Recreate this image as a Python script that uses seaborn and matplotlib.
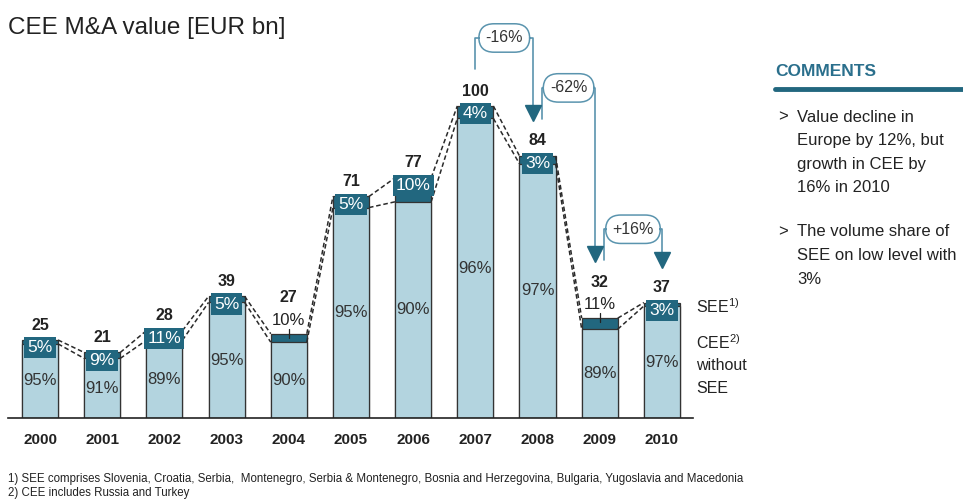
import matplotlib
matplotlib.use("Agg")
import matplotlib.pyplot as plt
import seaborn as sns
import pandas as pd
from matplotlib.lines import Line2D

years = ["2000", "2001", "2002", "2003", "2004", "2005", "2006", "2007", "2008", "2009", "2010"]
totals = [25, 21, 28, 39, 27, 71, 77, 100, 84, 32, 37]
see_share = [5, 9, 11, 5, 10, 5, 10, 4, 3, 11, 3]
cee_share = [95, 91, 89, 95, 90, 95, 90, 96, 97, 89, 97]
see_outside = ["2004", "2009"]  # SEE share written above the bar instead of in a box
changes = [("2007", "2008", "-16%"), ("2008", "2009", "-62%"), ("2009", "2010", "+16%")]
comments = [
    ["Value decline in", "Europe by 12%, but", "growth in CEE by", "16% in 2010"],
    ["The volume share of", "SEE on low level with", "3%"],
]
footnotes = [
    "1) SEE comprises Slovenia, Croatia, Serbia,  Montenegro, Serbia & Montenegro, Bosnia and Herzegovina, Bulgaria, Yugoslavia and Macedonia",
    "2) CEE includes Russia and Turkey",
]

LIGHT = "#b3d4df"
DARK = "#22677f"
LINE = "#5a94ae"
TXT = "#222222"

sns.set_style("white")
plt.rcParams["font.family"] = ["Liberation Sans", "DejaVu Sans"]
plt.rcParams["mathtext.fontset"] = "custom"
plt.rcParams["mathtext.rm"] = "Liberation Sans"

df = pd.DataFrame({"year": years, "total": totals, "see": see_share, "cee_pct": cee_share})
df["cee"] = df["total"] * df["cee_pct"] / 100

W = 0.58
fig = plt.figure(figsize=(9.63, 5.01), dpi=100)
ax = fig.add_axes([8 / 963, 83 / 501, 685 / 963, 390 / 501])

sns.barplot(data=df, x="year", y="total", color=DARK, saturation=1, width=W,
            edgecolor="#333333", linewidth=0.9, errorbar=None, ax=ax)
sns.barplot(data=df, x="year", y="cee", color=LIGHT, saturation=1, width=W,
            edgecolor="#333333", linewidth=0.9, errorbar=None, ax=ax)

ax.set_xlim(-0.515, 10.5)
ax.set_ylim(0, 125)
ax.set_xlabel("")
ax.set_ylabel("")
ax.set_yticks([])
for s in ["top", "left", "right"]:
    ax.spines[s].set_visible(False)
ax.spines["bottom"].set_color("#222222")
ax.spines["bottom"].set_linewidth(1.2)
ax.tick_params(axis="x", length=0, pad=11)
for lab in ax.get_xticklabels():
    lab.set_fontweight("bold")
    lab.set_fontsize(11)
    lab.set_color(TXT)

# dashed connectors between neighbouring bars
for i in range(len(years) - 1):
    for col in ["total", "cee"]:
        ax.plot([i + W / 2, i + 1 - W / 2], [df[col][i], df[col][i + 1]],
                ls=(0, (3, 1.8)), color="#2a2a2a", lw=1.1, zorder=1)

label_y = []
for i, row in df.iterrows():
    tot = row["total"]
    if row["year"] in see_outside:
        ax.text(i, tot + 4.4, f"{row['see']}%", ha="center", va="center",
                fontsize=12, color=TXT, zorder=6)
        ax.plot([i, i], [tot - 1.2, tot + 1.6], color="#222222", lw=0.9, zorder=6)
        ly = tot + 11.5
    else:
        ax.text(i, tot - 2.5, f"{row['see']}%", ha="center", va="center",
                fontsize=12.5, color="white", zorder=6,
                bbox=dict(boxstyle="square,pad=0.18", fc=DARK, ec="none"))
        ly = tot + 4.8
    label_y.append(ly)
    ax.text(i, ly, f"{tot}", ha="center", va="center", fontsize=11.5,
            fontweight="bold", color=TXT, zorder=6)
    ax.text(i, row["cee"] / 2, f"{row['cee_pct']}%", ha="center", va="center",
            fontsize=12, color="#333333", zorder=6)

# change brackets with arrows
starts = {a for a, b, c in changes}
ends = {b for a, b, c in changes}
for a, b, lab in changes:
    i, j = years.index(a), years.index(b)
    xl = i + (0.07 if a in ends else 0)
    xr = j - (0.07 if b in starts else 0)
    y0 = label_y[i] + 7
    tip = label_y[j] + 9
    by = max(label_y[i], label_y[j]) + 17
    ax.plot([xl, xl, xr, xr], [y0, by, by, tip + 2], color=LINE, lw=1.2,
            clip_on=False, zorder=3)
    ax.plot(xr, tip, marker="v", ms=11, color=DARK, clip_on=False, zorder=4)
    ax.text((xl + xr) / 2, by, lab, ha="center", va="center", fontsize=11.5,
            color="#333333", zorder=5,
            bbox=dict(boxstyle="round,pad=0.42,rounding_size=0.95", fc="white",
                      ec=LINE, lw=1.1))

# segment legend on the right
ax.text(10.55, 35.6, r"SEE$^{1)}$", ha="left", va="center", fontsize=11.5,
        color=TXT, clip_on=False)
ax.text(10.55, 24, r"CEE$^{2)}$", ha="left", va="center", fontsize=11.5,
        color=TXT, clip_on=False)
ax.text(10.55, 16.7, "without", ha="left", va="center", fontsize=11.5,
        color=TXT, clip_on=False)
ax.text(10.55, 9.6, "SEE", ha="left", va="center", fontsize=11.5,
        color=TXT, clip_on=False)

# title
fig.text(8 / 963, 1 - 28 / 501, "CEE M&A value [EUR bn]", fontsize=17.5,
         color=TXT, va="center", ha="left")

# comments panel
fig.text(775 / 963, 1 - 72 / 501, "COMMENTS", fontsize=12.5, fontweight="bold",
         color="#2a6f8c", va="center", ha="left")
fig.add_artist(Line2D([775 / 963, 1.0], [1 - 89 / 501] * 2, color=DARK, lw=3.5))
y = 117
for block in comments:
    fig.text(778 / 963, 1 - y / 501, ">", fontsize=12, color=TXT, va="center")
    for line in block:
        fig.text(797 / 963, 1 - y / 501, line, fontsize=12, color=TXT, va="center")
        y += 23.5
    y += 21

# footnotes
fig.text(8 / 963, 1 - 479 / 501, footnotes[0], fontsize=8.3, color=TXT, va="center")
fig.text(8 / 963, 1 - 493 / 501, footnotes[1], fontsize=8.3, color=TXT, va="center")

fig.savefig("out.png", dpi=100)
